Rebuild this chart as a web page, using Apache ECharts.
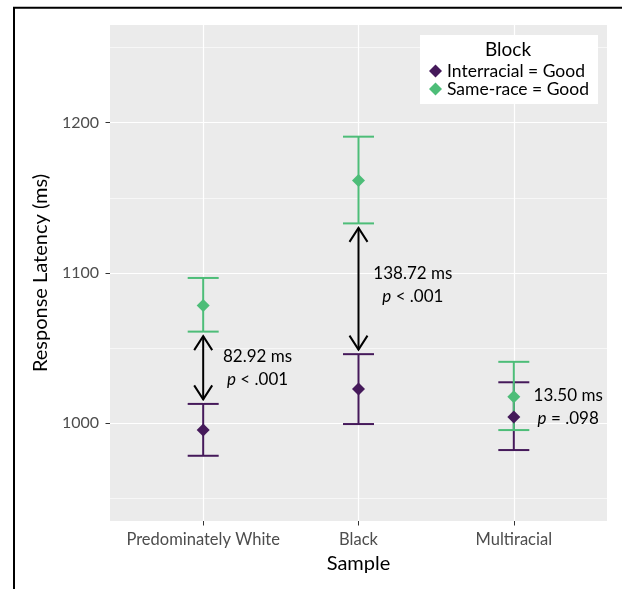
<!DOCTYPE html>
<html>
<head>
<meta charset="utf-8">
<script src="https://cdn.jsdelivr.net/npm/echarts@6/dist/echarts.min.js"></script>
<style>html,body{margin:0;padding:0;background:#fff}#c{width:622px;height:589px}</style>
</head>
<body>
<div id="c"></div>
<script>
// ---- data ----
const categories = ['Predominately White', 'Black', 'Multiracial'];
const seriesNames = ['Interracial = Good', 'Same-race = Good'];
const interracialMean = [995.5, 1022.9, 1004.2];
const interracialLow  = [978.4, 999.5, 982.2];
const interracialHigh = [1012.9, 1046.0, 1027.3];
const sameRaceMean = [1078.4, 1161.6, 1017.7];
const sameRaceLow  = [1061.0, 1133.0, 995.5];
const sameRaceHigh = [1096.7, 1190.7, 1040.9];
const diffLabels = ['82.92 ms', '138.72 ms', '13.50 ms'];
const pLabels = ['< .001', '< .001', '= .098'];
const showArrow = [true, true, false];
const yTicks = [1000, 1100, 1200];
const yMinor = [950, 1050, 1150, 1250];

// ---- styling ----
const FONT = 'Lato, "DejaVu Sans", sans-serif';
const PURPLE = '#45195A';
const GREEN = '#4DBD78';

const chart = echarts.init(document.getElementById('c'), null, {renderer: 'canvas'});

function errorBarSeries(low, high, color, z) {
  return {
    type: 'custom', z: z, silent: true, animation: false,
    data: categories.map((c, i) => [i + 1, low[i], high[i]]),
    encode: {x: 0, y: [1, 2]},
    renderItem: function (params, api) {
      const x = api.value(0);
      const top = api.coord([x, api.value(2)]);
      const bot = api.coord([x, api.value(1)]);
      const hw = 15.5;
      const st = {stroke: color, lineWidth: 2, fill: null};
      return {type: 'group', children: [
        {type: 'line', shape: {x1: top[0], y1: top[1], x2: bot[0], y2: bot[1]}, style: st},
        {type: 'line', shape: {x1: top[0] - hw, y1: top[1], x2: top[0] + hw, y2: top[1]}, style: st},
        {type: 'line', shape: {x1: bot[0] - hw, y1: bot[1], x2: bot[0] + hw, y2: bot[1]}, style: st}
      ]};
    }
  };
}

const arrowGap = 3;
const arrowData = [];
categories.forEach((c, i) => {
  if (showArrow[i]) arrowData.push([i + 1, sameRaceLow[i] - arrowGap, interracialHigh[i] + arrowGap]);
});

const annotData = categories.map((c, i) => [i + 1.35, (sameRaceMean[i] + interracialMean[i]) / 2]);

const option = {
  animation: false,
  textStyle: {fontFamily: FONT},
  grid: {left: 110, right: 15, top: 25, bottom: 68, show: true, backgroundColor: '#EBEBEB', borderWidth: 0, containLabel: false},
  xAxis: {
    type: 'value', min: 0.4, max: 3.6,
    splitLine: {show: false},
    axisLine: {show: false},
    axisTick: {show: true, customValues: [1, 2, 3], length: 4.5, lineStyle: {color: '#333', width: 1}},
    axisLabel: {customValues: [1, 2, 3], formatter: v => categories[Math.round(v) - 1], color: '#4D4D4D', fontSize: 16.5, margin: 10, fontFamily: FONT},
    name: 'Sample', nameLocation: 'middle', nameGap: 33,
    nameTextStyle: {fontSize: 20, color: '#000', fontFamily: FONT}
  },
  yAxis: {
    type: 'value', min: 935, max: 1265,
    splitLine: {show: false},
    axisLine: {show: false},
    axisTick: {show: true, customValues: yTicks, length: 4.5, lineStyle: {color: '#333', width: 1}},
    axisLabel: {customValues: yTicks, formatter: v => String(v), color: '#4D4D4D', fontSize: 16, margin: 11, fontFamily: FONT},
    name: 'Response Latency (ms)', nameLocation: 'middle', nameGap: 57, nameRotate: 90,
    nameTextStyle: {fontSize: 20, color: '#000', fontFamily: FONT}
  },
  legend: {
    orient: 'vertical', left: 420, top: 35,
    padding: [27, 9, 6, 9], itemGap: 0, itemWidth: 13, itemHeight: 13,
    backgroundColor: '#fff', icon: 'diamond',
    data: seriesNames,
    textStyle: {fontSize: 17.5, lineHeight: 17, color: '#000', fontFamily: FONT}
  },
  graphic: [
    {type: 'polyline', z: 100, shape: {points: [[14, 589], [14, 7.7], [622, 7.7]]}, style: {stroke: '#000', lineWidth: 2, fill: null}},
    {type: 'text', z: 100, x: 508, y: 50, style: {text: 'Block', fontSize: 19, fill: '#000', align: 'center', verticalAlign: 'middle', fontFamily: FONT}}
  ],
  series: [
    {
      type: 'line', data: [], silent: true, z: 1,
      markLine: {
        silent: true, symbol: ['none', 'none'], label: {show: false}, z: 1, animation: false,
        data: [
          ...yMinor.map(v => ({yAxis: v, lineStyle: {color: '#fff', width: 0.6, type: 'solid'}})),
          ...yTicks.map(v => ({yAxis: v, lineStyle: {color: '#fff', width: 1.2, type: 'solid'}})),
          ...[1, 2, 3].map(v => ({xAxis: v, lineStyle: {color: '#fff', width: 1.2, type: 'solid'}}))
        ]
      }
    },
    errorBarSeries(interracialLow, interracialHigh, PURPLE, 3),
    errorBarSeries(sameRaceLow, sameRaceHigh, GREEN, 3),
    {
      type: 'custom', z: 3, silent: true,
      data: arrowData, encode: {x: 0, y: [1, 2]},
      renderItem: function (params, api) {
        const x = api.value(0);
        const t = api.coord([x, api.value(1)]);
        const b = api.coord([x, api.value(2)]);
        const st = {stroke: '#000', lineWidth: 2, fill: null};
        const dx = 9, dy = 14;
        return {type: 'group', children: [
          {type: 'line', shape: {x1: t[0], y1: t[1], x2: b[0], y2: b[1]}, style: st},
          {type: 'polyline', shape: {points: [[t[0] - dx, t[1] + dy], [t[0], t[1]], [t[0] + dx, t[1] + dy]]}, style: st},
          {type: 'polyline', shape: {points: [[b[0] - dx, b[1] - dy], [b[0], b[1]], [b[0] + dx, b[1] - dy]]}, style: st}
        ]};
      }
    },
    {
      type: 'custom', z: 5, silent: true,
      data: annotData, encode: {x: 0, y: 1},
      renderItem: function (params, api) {
        const i = params.dataIndex;
        const p = api.coord([api.value(0), api.value(1)]);
        return {type: 'text', x: p[0], y: p[1], style: {
          text: '{n|' + diffLabels[i] + '}\n{i|p}{n| ' + pLabels[i] + '}',
          align: 'center', verticalAlign: 'middle',
          rich: {
            n: {fontSize: 17, fontFamily: FONT, fill: '#000', lineHeight: 23},
            i: {fontSize: 17, fontFamily: FONT, fontStyle: 'italic', fill: '#000', lineHeight: 23}
          }
        }};
      }
    },
    {
      name: seriesNames[0], type: 'scatter', z: 6, symbol: 'diamond', symbolSize: [13, 13],
      itemStyle: {color: PURPLE, opacity: 1},
      data: categories.map((c, i) => [i + 1, interracialMean[i]])
    },
    {
      name: seriesNames[1], type: 'scatter', z: 6, symbol: 'diamond', symbolSize: [13, 13],
      itemStyle: {color: GREEN, opacity: 1},
      data: categories.map((c, i) => [i + 1, sameRaceMean[i]])
    }
  ]
};
chart.setOption(option);
</script>
</body>
</html>
